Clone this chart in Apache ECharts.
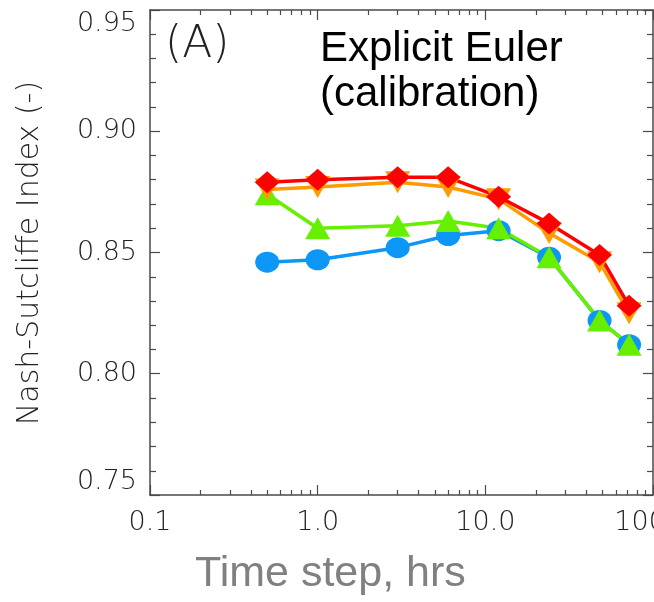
<!DOCTYPE html>
<html>
<head>
<meta charset="utf-8">
<script src="https://cdn.jsdelivr.net/npm/echarts@6/dist/echarts.min.js"></script>
<style>
  html, body { margin: 0; padding: 0; background: #fff; }
  #chart { width: 654px; height: 602px; }
</style>
</head>
<body>
<div id="chart"></div>
<script>
// Time step (hours) and Nash-Sutcliffe efficiency for four model variants
const timeStep = [0.5, 1, 3, 6, 12, 24, 48, 72];
const nseBlue   = [0.846, 0.847, 0.852, 0.857, 0.859, 0.848, 0.822, 0.812];
const nseGreen  = [0.874, 0.860, 0.861, 0.863, 0.860, 0.848, 0.822, 0.812];
const nseOrange = [0.876, 0.877, 0.879, 0.877, 0.872, 0.858, 0.846, 0.825];
const nseRed    = [0.879, 0.880, 0.881, 0.881, 0.873, 0.862, 0.849, 0.828];

// Axis tick values and labels
const xMajorTicks = [0.1, 1, 10, 100];
const xTickLabels = ['0.1', '1.0', '10.0', '100.0'];
const xMinorTicks = [0.2, 0.3, 0.4, 0.5, 0.6, 0.7, 0.8, 0.9,
                     2, 3, 4, 5, 6, 7, 8, 9,
                     20, 30, 40, 50, 60, 70, 80, 90];
const yMin = 0.75, yMax = 0.95, yStep = 0.05;

const axisColor = '#4a4a4a';
const labelFont = { fontFamily: 'DejaVu Sans', fontSize: 27, fontWeight: 200, color: '#222' };

function pairs(xs, ys) { return xs.map((x, i) => [x, ys[i]]); }

function logAxis(position, ticks, len, withLine, withLabels) {
  return {
    type: 'log', logBase: 10, min: 0.1, max: 100, position: position,
    axisLine: { show: withLine, onZero: false, lineStyle: { color: axisColor, width: 1.5 } },
    axisTick: { show: true, inside: true, length: len, customValues: ticks,
                lineStyle: { color: axisColor, width: 1.2 } },
    axisLabel: withLabels ? Object.assign({
      show: true, customValues: xMajorTicks, margin: 14, hideOverlap: false,
      formatter: v => xTickLabels[xMajorTicks.findIndex(t => Math.abs(t - v) < 1e-9)]
    }, labelFont) : { show: false },
    splitLine: { show: false }, minorSplitLine: { show: false }
  };
}

function valueAxis(position, withLabels) {
  return {
    type: 'value', min: yMin, max: yMax, interval: yStep, position: position,
    axisLine: { show: true, onZero: false, lineStyle: { color: axisColor, width: 1.5 } },
    axisTick: { show: true, inside: true, length: 10, lineStyle: { color: axisColor, width: 1.2 } },
    minorTick: { show: true, splitNumber: 5, length: 6, lineStyle: { color: axisColor, width: 1.2 } },
    axisLabel: withLabels ? Object.assign({
      show: true, margin: 13, formatter: v => v.toFixed(2),
      verticalAlignMinLabel: 'bottom', verticalAlignMaxLabel: 'top'
    }, labelFont) : { show: false },
    splitLine: { show: false }, minorSplitLine: { show: false }
  };
}

function lineSeries(name, ys, color, symbol, size, rotate) {
  return {
    name: name, type: 'line', xAxisIndex: 0, yAxisIndex: 0,
    data: pairs(timeStep, ys),
    symbol: symbol, symbolSize: size, symbolRotate: rotate || 0,
    showAllSymbol: true, clip: false,
    lineStyle: { color: color, width: 3.5 },
    itemStyle: { color: color, borderWidth: 0 },
    emphasis: { disabled: true }, animation: false
  };
}

const chart = echarts.init(document.getElementById('chart'), null, { renderer: 'canvas' });
chart.setOption({
  backgroundColor: '#fff',
  animation: false,
  grid: { left: 150, right: 1, top: 10, bottom: 107, containLabel: false, outerBoundsMode: 'none' },
  xAxis: [
    logAxis('bottom', xMajorTicks, 10, true, true),
    logAxis('bottom', xMinorTicks, 5, false, false),
    logAxis('top', xMajorTicks, 10, true, false),
    logAxis('top', xMinorTicks, 5, false, false)
  ],
  yAxis: [
    valueAxis('left', true),
    valueAxis('right', false)
  ],
  series: [
    lineSeries('blue', nseBlue, '#0c97f7', 'circle', [24, 21]),
    lineSeries('green', nseGreen, '#66f000', 'triangle', [25, 22]),
    lineSeries('orange', nseOrange, '#ff9a00', 'triangle', [25, 22], 180),
    lineSeries('red', nseRed, '#ff0000', 'diamond', [25, 22])
  ],
  graphic: [
    { type: 'text', left: 165, top: 24,
      style: { text: '(A)', fontFamily: 'DejaVu Sans', fontWeight: 200, fontSize: 44, fill: '#222' } },
    { type: 'text', left: 320, top: 27,
      style: { text: 'Explicit Euler\n(calibration)', fontFamily: 'Liberation Sans, Arial',
               fontSize: 42, lineHeight: 45, fill: '#000' } },
    { type: 'text', left: 195, top: 553,
      style: { text: 'Time step, hrs', fontFamily: 'Liberation Sans, Arial',
               fontSize: 43, fill: '#808080' } },
    { type: 'text', x: 30, y: 253, rotation: Math.PI / 2,
      style: { text: 'Nash-Sutcliffe Index (-)', fontFamily: 'DejaVu Sans', fontWeight: 200,
               fontSize: 30, fill: '#222', align: 'center', verticalAlign: 'middle' } }
  ]
});
</script>
</body>
</html>
